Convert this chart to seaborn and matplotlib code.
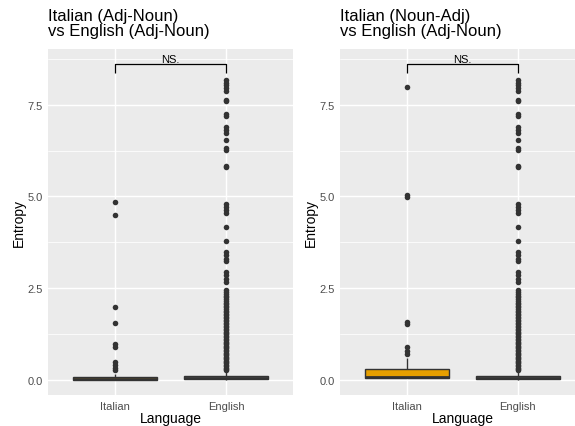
import numpy as np
import pandas as pd
import matplotlib
matplotlib.use("Agg")
import matplotlib.pyplot as plt
import seaborn as sns

# ---- data -------------------------------------------------------------
languages = ["Italian", "English"]
palette = {"Italian": "#E69F00", "English": "#999999"}

panel_titles = ["Italian (Adj-Noun)\nvs English (Adj-Noun)",
                "Italian (Noun-Adj)\nvs English (Adj-Noun)"]
signif_label = "NS."

# bulk of the entropy values (value, count)
ita_an_values = [0.00, 0.03, 0.07, 0.12, 0.16]
ita_an_counts = [40, 40, 40, 5, 2]
ita_an_high = [0.27, 0.34, 0.42, 0.50, 0.91, 0.98, 1.55, 1.98, 4.50, 4.84]

ita_na_values = [0.06, 0.09, 0.20, 0.30, 0.45, 0.59]
ita_na_counts = [30, 20, 10, 20, 4, 2]
ita_na_high = [0.71, 0.80, 0.89, 1.53, 1.59, 4.99, 5.03, 7.97]

eng_values = [0.00, 0.02, 0.05, 0.12, 0.18, 0.25]
eng_counts = [100, 100, 150, 120, 20, 10]
eng_high = [0.28, 0.31, 0.34, 0.38, 0.41, 0.45, 0.49, 0.52, 0.56, 0.60,
            0.63, 0.67, 0.71, 0.74, 0.78, 0.82, 0.86, 0.89, 0.93, 0.97,
            1.01, 1.04, 1.08, 1.12, 1.16, 1.20, 1.24, 1.28, 1.32, 1.36,
            1.40, 1.44, 1.48, 1.52, 1.56, 1.60, 1.64, 1.68, 1.72, 1.77,
            1.81, 1.85, 1.89, 1.94, 1.98, 2.02, 2.07, 2.11, 2.16, 2.20,
            2.25, 2.30, 2.35, 2.40, 2.46, 2.66, 2.75, 2.85, 2.94, 3.23,
            3.30, 3.40, 3.50, 3.80, 4.16, 4.54, 4.62, 4.70, 4.79, 5.80,
            5.84, 6.27, 6.32, 6.54, 6.72, 6.81, 6.88, 7.18, 7.24, 7.59,
            7.63, 7.88, 7.96, 8.03, 8.10, 8.17]

y_ticks = [0.0, 2.5, 5.0, 7.5]
y_tick_labels = ["0.0", "2.5", "5.0", "7.5"]
y_minor = [1.25, 3.75, 6.25, 8.75]


def frame(ita_vals, ita_cnts, ita_high):
    ita = np.concatenate([np.repeat(ita_vals, ita_cnts), ita_high])
    eng = np.concatenate([np.repeat(eng_values, eng_counts), eng_high])
    return pd.DataFrame({
        "Language": ["Italian"] * len(ita) + ["English"] * len(eng),
        "Entropy": np.concatenate([ita, eng]),
    })


frames = [frame(ita_an_values, ita_an_counts, ita_an_high),
          frame(ita_na_values, ita_na_counts, ita_na_high)]

# ---- styling (ggplot-like grey theme) ---------------------------------
sns.set_theme(style="darkgrid")
plt.rcParams["font.family"] = ["Liberation Sans", "DejaVu Sans"]

W, H = 575, 427
fig = plt.figure(figsize=(W / 100, H / 100), dpi=100)
fig.patch.set_facecolor("white")

panel_top, panel_bottom = 49.5, 395.7
panel_w = 244.2
panel_lefts = [48.4, 340.3]
ylabel_right = [25.5, 317.5]

for i, df in enumerate(frames):
    left = panel_lefts[i]
    ax = fig.add_axes([left / W, 1 - panel_bottom / H,
                       panel_w / W, (panel_bottom - panel_top) / H])
    ax.set_facecolor("#EBEBEB")
    for s in ax.spines.values():
        s.set_visible(False)

    sns.boxplot(data=df, x="Language", y="Entropy", hue="Language",
                order=languages, hue_order=languages, palette=palette,
                saturation=1, dodge=False, legend=False, width=0.75,
                linewidth=1.0, linecolor="#333333", showcaps=False,
                flierprops=dict(marker="o", markersize=4.0,
                                markerfacecolor="#333333",
                                markeredgecolor="#333333",
                                markeredgewidth=0),
                medianprops=dict(linewidth=2.0, color="#333333"),
                ax=ax, zorder=3)

    ax.set_xlim(-0.6, 1.6)
    ax.set_ylim(-0.40, 9.03)

    # grid
    ax.grid(False)
    for yv in y_minor:
        ax.axhline(yv, color="white", lw=0.55, zorder=0)
    for yv in y_ticks:
        ax.axhline(yv, color="white", lw=1.07, zorder=0)
    for xv in range(len(languages)):
        ax.axvline(xv, color="white", lw=1.07, zorder=0)

    ax.set_yticks(y_ticks)
    ax.set_yticklabels(y_tick_labels)
    ax.tick_params(axis="both", length=2.75, width=0.8, color="#333333",
                   labelcolor="#4D4D4D", labelsize=8.0)
    ax.tick_params(axis="y", pad=1.2)
    ax.tick_params(axis="x", pad=1.5)

    ax.set_xlabel("Language", fontsize=10, color="black")
    ax.set_ylabel("Entropy", fontsize=10, color="black")
    ax.xaxis.set_label_coords(0.5, -0.047)
    ax.yaxis.set_label_coords((ylabel_right[i] - left) / panel_w, 0.5)

    # significance bracket
    ax.plot([0, 0, 1, 1], [8.35, 8.61, 8.61, 8.35], color="black",
            lw=0.9, zorder=4, solid_capstyle="butt")
    ax.text(0.5, 8.66, signif_label, ha="center", va="baseline",
            fontsize=8.0, color="black")

    fig.text(left / W, 1 - 8.5 / H, panel_titles[i], ha="left", va="top",
             fontsize=12.0, color="black", linespacing=1.04)

fig.savefig("out.png", dpi=100)
